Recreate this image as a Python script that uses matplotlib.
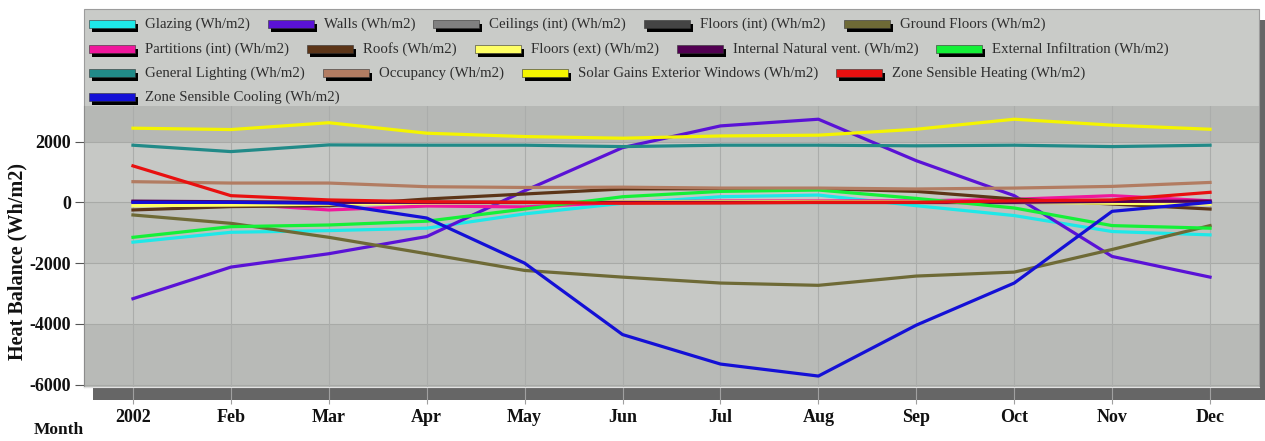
import matplotlib
matplotlib.use('Agg')
import matplotlib.pyplot as plt
from matplotlib.patches import Rectangle

W, H = 1265, 441

months = ['2002', 'Feb', 'Mar', 'Apr', 'May', 'Jun', 'Jul', 'Aug', 'Sep', 'Oct', 'Nov', 'Dec']

# heat balance per month (Wh/m2)
glazing = [-1310, -985, -930, -850, -380, -30, 185, 240, -110, -435, -960, -1070]
walls = [-3170, -2130, -1690, -1125, 380, 1800, 2515, 2735, 1370, 220, -1780, -2460]
ceilings = [0, 0, 0, 0, 0, 0, 0, 0, 0, 0, 0, 0]
floors_int = [0, 0, 0, 0, 0, 0, 0, 0, 0, 0, 0, 0]
ground_floors = [-415, -690, -1150, -1690, -2240, -2460, -2655, -2730, -2425, -2295, -1550, -765]
partitions = [20, -40, -250, -120, -150, 0, 50, 50, 50, 100, 220, 50]
roofs = [-250, -140, -110, 110, 275, 440, 450, 450, 360, 110, -55, -220]
floors_ext = [-110, -90, -60, -20, 0, 20, 30, 30, 20, 0, -30, -60]
int_nat_vent = [40, 20, 0, 0, 0, 0, 0, 0, 0, 0, 30, 40]
ext_infil = [-1150, -800, -745, -620, -220, 185, 360, 405, 130, -185, -765, -850]
lighting = [1880, 1670, 1890, 1880, 1880, 1835, 1880, 1880, 1860, 1880, 1835, 1880]
occupancy = [680, 635, 635, 515, 490, 500, 470, 470, 440, 470, 525, 655]
solar = [2440, 2395, 2620, 2275, 2165, 2110, 2185, 2210, 2405, 2735, 2540, 2405]
heating = [1200, 220, 80, 20, 0, -30, -20, 0, 0, 50, 80, 330]
cooling = [0, 0, -30, -515, -2000, -4350, -5320, -5715, -4040, -2655, -295, 0]

labels = ['Glazing (Wh/m2)', 'Walls (Wh/m2)', 'Ceilings (int) (Wh/m2)', 'Floors (int) (Wh/m2)',
          'Ground Floors (Wh/m2)', 'Partitions (int) (Wh/m2)', 'Roofs (Wh/m2)', 'Floors (ext) (Wh/m2)',
          'Internal Natural vent. (Wh/m2)', 'External Infiltration (Wh/m2)', 'General Lighting (Wh/m2)',
          'Occupancy (Wh/m2)', 'Solar Gains Exterior Windows (Wh/m2)', 'Zone Sensible Heating (Wh/m2)',
          'Zone Sensible Cooling (Wh/m2)']
series = [glazing, walls, ceilings, floors_int, ground_floors, partitions, roofs, floors_ext,
          int_nat_vent, ext_infil, lighting, occupancy, solar, heating, cooling]
colors = ['#1ee8e8', '#5a12d6', '#808080', '#444444', '#6e6a36', '#f0179c', '#5c3518', '#ffff66',
          '#520052', '#14f038', '#218a88', '#b27c62', '#f4f400', '#e81010', '#1410d6']
legend_rows = [[0, 1, 2, 3, 4], [5, 6, 7, 8, 9], [10, 11, 12, 13], [14]]

serif = ['Liberation Serif', 'DejaVu Serif']

fig = plt.figure(figsize=(W / 100, H / 100), dpi=100)


def fx(x):
    return x / W


def fy(y):
    return 1 - y / H


# gray panel with drop shadow (legend + plot)
fig.add_artist(Rectangle((fx(93), fy(400)), fx(1265) - fx(93), fy(20) - fy(400),
                         transform=fig.transFigure, facecolor='#666666', edgecolor='none', zorder=-2))
fig.add_artist(Rectangle((fx(84), fy(387)), fx(1259) - fx(84), fy(9) - fy(387),
                         transform=fig.transFigure, facecolor='#c9cbc8', edgecolor='#9c9c9c',
                         linewidth=0.8, zorder=-1))

ax = fig.add_axes([fx(84), fy(387), fx(1259) - fx(84), fy(106) - fy(387)])
ax.set_facecolor('#c6c8c5')
ymin, ymax = -6075, 3170
ax.set_ylim(ymin, ymax)
ax.set_xlim(-0.5, 11.5)

# alternating shaded bands between gridlines
ax.axhspan(2000, ymax, color='#b6b8b5', zorder=0, lw=0)
ax.axhspan(-2000, 0, color='#bfc1be', zorder=0, lw=0)
ax.axhspan(ymin, -4000, color='#b8bab7', zorder=0, lw=0)

x = list(range(len(months)))
for yv in [2000, 0, -2000, -4000, -6000]:
    ax.axhline(yv, color='#a8aaa7', lw=0.8, zorder=1)
for xv in x:
    ax.axvline(xv, color='#abadab', lw=0.8, zorder=1)

for i, vals in enumerate(series):
    ax.plot(x, vals, color=colors[i], lw=2.3, zorder=3 + i, solid_joinstyle='round')

ax.set_xticks(x)
ax.set_xticklabels(months)
ax.set_yticks([2000, 0, -2000, -4000, -6000])
ax.set_yticklabels(['2000', '0', '-2000', '-4000', '-6000'])
ax.tick_params(axis='x', length=12, width=0.8, color='#a0a0a0', pad=4)
ax.tick_params(axis='y', length=6.5, width=0.8, color='#555555', pad=3)
for lab in ax.get_xticklabels() + ax.get_yticklabels():
    lab.set_family(serif)
    lab.set_fontweight('bold')
    lab.set_fontsize(13)
    lab.set_color('#111111')

for s in ['top', 'right']:
    ax.spines[s].set_visible(False)
ax.spines['left'].set_color('#8c8c8c')
ax.spines['bottom'].set_color('#e2e2e2')

fig.text(fx(17), fy(262), 'Heat Balance (Wh/m2)', rotation=90, ha='center', va='center',
         fontsize=14.5, fontweight='bold', family=serif, color='#111111')
fig.text(fx(59), fy(430), 'Month', ha='center', va='center',
         fontsize=12.5, fontweight='bold', family=serif, color='#111111')

# legend, flowing rows of swatch + text
renderer = fig.canvas.get_renderer()
row_y = [24, 49, 73, 97]
for r, row in enumerate(legend_rows):
    cx = 89
    cy = row_y[r]
    for i in row:
        fig.add_artist(Rectangle((fx(cx + 3), fy(cy + 8)), fx(46), fy(0) - fy(8),
                                 transform=fig.transFigure, facecolor='black', edgecolor='none', zorder=2))
        fig.add_artist(Rectangle((fx(cx), fy(cy + 4)), fx(46), fy(0) - fy(8),
                                 transform=fig.transFigure, facecolor=colors[i], edgecolor='#333333',
                                 linewidth=0.4, zorder=3))
        t = fig.text(fx(cx + 56), fy(cy), labels[i], ha='left', va='center', fontsize=10.75,
                     family=serif, color='#2e2e2e')
        bb = t.get_window_extent(renderer)
        cx = bb.x1 + 18

fig.savefig('out.png', dpi=100)
